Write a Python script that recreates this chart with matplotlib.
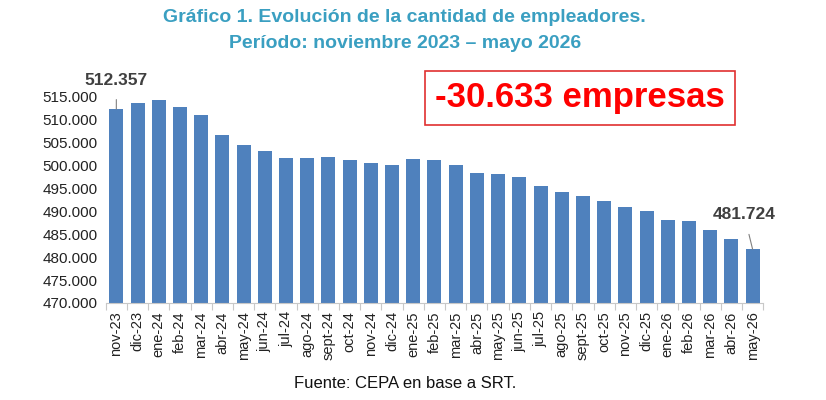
import matplotlib

matplotlib.use("Agg")
import matplotlib.pyplot as plt
import numpy as np

plt.rcParams["font.family"] = ["Liberation Sans", "DejaVu Sans"]

# monthly employer counts (thousands)
months = [
    "nov-23", "dic-23", "ene-24", "feb-24", "mar-24", "abr-24", "may-24", "jun-24",
    "jul-24", "ago-24", "sept-24", "oct-24", "nov-24", "dic-24", "ene-25", "feb-25",
    "mar-25", "abr-25", "may-25", "jun-25", "jul-25", "ago-25", "sept-25", "oct-25",
    "nov-25", "dic-25", "ene-26", "feb-26", "mar-26", "abr-26", "may-26",
]
empleadores = [
    512.357, 513.76, 514.27, 512.88, 511.14, 506.7, 504.45, 503.2,
    501.6, 501.6, 501.83, 501.24, 500.6, 500.15, 501.4, 501.17,
    500.15, 498.4, 498.26, 497.46, 495.57, 494.26, 493.3, 492.3,
    491.05, 490.1, 488.1, 487.85, 485.9, 484.0, 481.724,
]
yticks = [470, 475, 480, 485, 490, 495, 500, 505, 510, 515]

BAR = "#4F81BD"
TITLE = "#3A9FC1"
GREY = "#404040"

fig = plt.figure(figsize=(8.26, 4.0), dpi=100)
ax = fig.add_axes([0.128, 0.2425, 0.796, 0.515])

x = np.arange(len(months))
ax.bar(x, empleadores, width=0.66, color=BAR, zorder=2)
ax.set_xlim(-0.5, len(months) - 0.5)
ax.set_ylim(470, 515)

ax.set_yticks(yticks)
ax.set_yticklabels([f"{v}.000" for v in yticks], fontsize=11, color="#222222")
ax.tick_params(axis="y", length=0, pad=6)

ax.set_xticks(x)
ax.set_xticklabels(months, rotation=90, fontsize=10.5, color="#222222")
ax.set_xticks(np.arange(-0.5, len(months), 1), minor=True)
ax.tick_params(axis="x", which="major", length=0, pad=6)
ax.tick_params(axis="x", which="minor", length=5, color="#C8C8C8", width=0.8)

for side in ["top", "right", "left"]:
    ax.spines[side].set_visible(False)
ax.spines["bottom"].set_color("#C8C8C8")
ax.spines["bottom"].set_linewidth(0.8)

# first and last value callouts
first, last = empleadores[0], empleadores[-1]
ax.annotate(f"{first:.3f}", xy=(0, first), xytext=(0, 518.5),
            ha="center", va="center", fontsize=12.5, fontweight="bold", color=GREY,
            arrowprops=dict(arrowstyle="-", color="#808080", lw=0.8, shrinkA=6, shrinkB=0),
            annotation_clip=False)
ax.annotate(f"{last:.3f}", xy=(x[-1], last), xytext=(x[-1] - 0.4, 489.3),
            ha="center", va="center", fontsize=12.5, fontweight="bold", color=GREY,
            arrowprops=dict(arrowstyle="-", color="#808080", lw=0.8, shrinkA=7, shrinkB=0),
            annotation_clip=False)

diff = (last - first) * 1000
fig.text(0.702, 0.756, f"{diff:,.0f} empresas".replace(",", "."),
         ha="center", va="center", fontsize=25, fontweight="bold", color="#FF0000",
         bbox=dict(boxstyle="square,pad=0.3", fc="white", ec="#E03030", lw=1.2))

fig.text(0.49, 0.955, "Gráfico 1. Evolución de la cantidad de empleadores.",
         ha="center", va="center", fontsize=14, fontweight="bold", color=TITLE)
fig.text(0.49, 0.892, "Período: noviembre 2023 – mayo 2026",
         ha="center", va="center", fontsize=14, fontweight="bold", color=TITLE)
fig.text(0.49, 0.04, "Fuente: CEPA en base a SRT.", ha="center", va="center",
         fontsize=12, color="#111111")

fig.savefig("out.png", dpi=100)
